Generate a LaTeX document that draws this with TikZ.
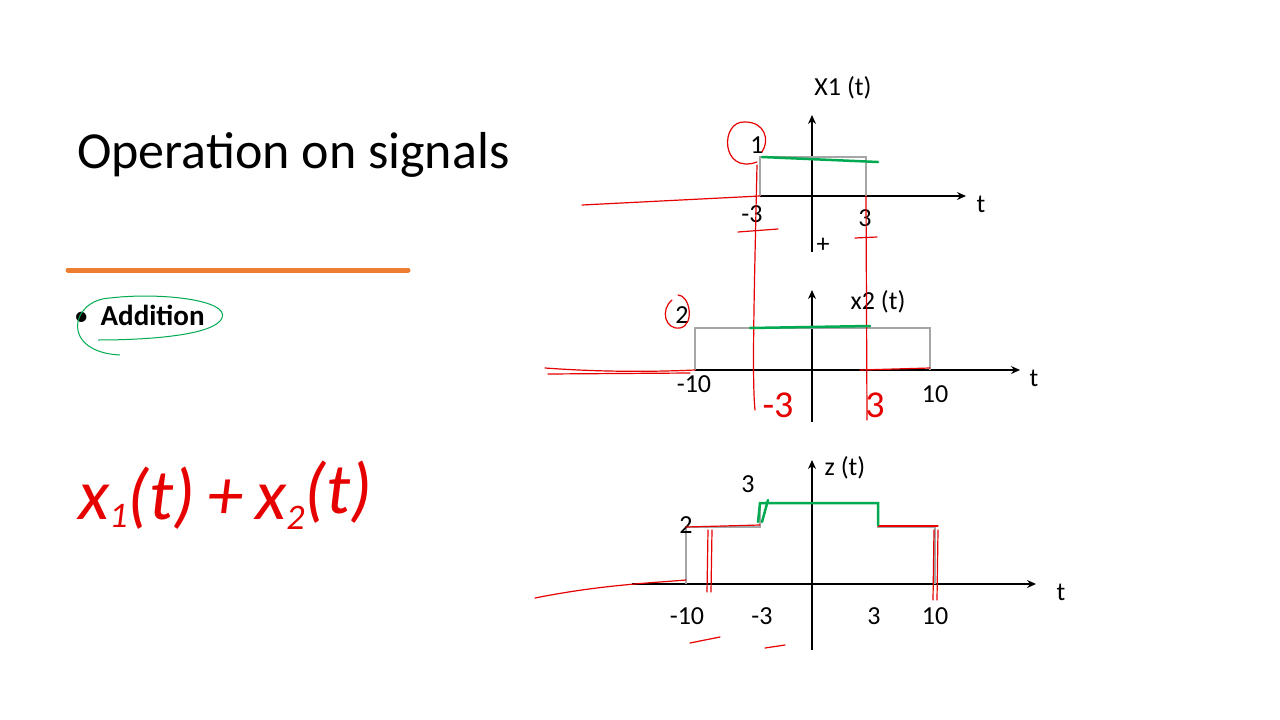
\documentclass[tikz,border=0pt]{standalone}
\usepackage{fontspec}
\setmainfont{Carlito}
\usetikzlibrary{arrows.meta}
\definecolor{ink}{RGB}{230,0,0}
\definecolor{gink}{RGB}{0,170,80}
\definecolor{orng}{RGB}{237,125,49}
\tikzset{ax/.style={line width=1.2pt,-{Stealth[length=9pt,width=8pt]}},
 sig/.style={draw=gray!70,line width=1.3pt},
 lab/.style={font=\fontsize{26}{26}\selectfont,inner sep=0pt},
 red/.style={draw=ink,line width=1.2pt,line cap=round},
 grn/.style={draw=gink,line width=2.5pt,line cap=round}}
\begin{document}
\begin{tikzpicture}[x=1pt,y=-1pt]
\useasboundingbox (0,0) rectangle (1280,720);
\fill[white] (0,0) rectangle (1280,720);
\node[anchor=west,inner sep=0,font=\fontsize{52}{52}\selectfont] (title) at (77,155) {Operation on signals};
\draw[orng,line width=5pt,line cap=round] (68,270) -- (408,270);
\node[anchor=west,inner sep=0,font=\fontsize{29}{29}\selectfont] (add) at (74,315) {•\hspace{12pt}\textbf{Addition}};
\draw[draw=gink,line width=1pt] (120,355) .. controls (60,352) and (70,300) .. (110,298) .. controls (160,292) and (230,300) .. (222,318) .. controls (215,335) and (150,340) .. (98,340);
\node[anchor=west,inner sep=0,text=ink,font=\itshape\fontsize{72}{72}\selectfont] (eq) at (78,495) {x\raisebox{-8pt}{\fontsize{36}{36}\selectfont 1}(t)\,+\,x\raisebox{-10pt}{\fontsize{36}{36}\selectfont 2}\raisebox{6pt}{(t)}};
% graph 1
\coordinate (y1b) at (812,252); \coordinate (y1t) at (812,115);
\coordinate (t1a) at (760,196); \coordinate (t1b) at (966,196);
\draw[ax] (y1b) -- (y1t);
\draw[ax] (t1a) -- (t1b);
\draw[sig] (760,196) -- (760,157) -- (866,157) -- (866,196);
\node[lab] (x1) at (843,88) {X1 (t)};
\node[lab] (t1) at (981,204) {t};
\node[lab] (o1) at (757,145) {1};
\node[lab] (m31) at (752,214) {-3};
\node[lab] (p31) at (865,218) {3};
\node[lab] (pl) at (823,245) {+};
% graph 2
\coordinate (y2b) at (812,422); \coordinate (y2t) at (812,290);
\coordinate (t2a) at (695,370); \coordinate (t2b) at (1020,370);
\draw[ax] (y2b) -- (y2t);
\draw[ax] (t2a) -- (t2b);
\draw[sig] (695,370) -- (695,328) -- (930,328) -- (930,370);
\node[lab] (x2) at (878,302) {x2 (t)};
\node[lab] (t2) at (1034,378) {t};
\node[lab] (two2) at (682,315) {2};
\node[lab] (m10) at (694,384) {-10};
\node[lab] (p10) at (935,394) {10};
% graph 3
\coordinate (y3b) at (812,650); \coordinate (y3t) at (812,460);
\coordinate (t3a) at (632,584); \coordinate (t3b) at (1036,584);
\draw[ax] (y3b) -- (y3t);
\draw[ax] (t3a) -- (t3b);
\draw[sig] (686,584) -- (686,527) -- (760,527) -- (760,503) -- (878,503) -- (878,527) -- (935,527) -- (935,584);
\node[lab] (z) at (845,468) {z (t)};
\node[lab] (t3) at (1061,592) {t};
\node[lab] (th3) at (748,484) {3};
\node[lab] (tw3) at (686,525) {2};
\node[lab] (a) at (687,616) {-10};
\node[lab] (b) at (762,616) {-3};
\node[lab] (c) at (874,616) {3};
\node[lab] (d) at (935,616) {10};
% red annotations
\draw[red] (582,205) -- (760,196);
\draw[red] (757,165) .. controls (754,300) and (752,380) .. (755,410);
\draw[red] (866,196) -- (867,420);
\draw[red] (757,162) .. controls (720,175) and (720,120) .. (745,122) .. controls (765,122) and (770,140) .. (762,152);
\draw[red] (738,232) -- (778,229); \draw[red] (855,238) -- (877,237);
\draw[red] (545,368) .. controls (600,372) and (650,372) .. (695,370);
\draw[red] (548,374) -- (690,373);
\draw[red] (860,370) -- (930,368);
\draw[red] (672,300) .. controls (660,310) and (665,330) .. (680,328) .. controls (695,325) and (690,295) .. (678,295);
\node[text=ink,font=\fontsize{38}{38}\selectfont,inner sep=0] (h1) at (778,405) {-3};
\node[text=ink,font=\fontsize{38}{38}\selectfont,inner sep=0] (h2) at (875,405) {3};
\draw[red] (535,598) .. controls (600,585) and (650,583) .. (686,580);
\draw[red] (686,527) -- (760,525);
\draw[red] (878,526) -- (938,526);
\draw[red] (708,530) -- (707,592); \draw[red] (712,530) -- (711,592);
\draw[red] (934,530) -- (933,600); \draw[red] (938,530) -- (937,600);
\draw[red] (690,643) -- (720,637); \draw[red] (765,648) -- (785,645);
% green annotations
\draw[grn] (762,157) -- (878,162);
\draw[grn] (750,328) -- (870,326);
\draw[grn] (758,522) -- (760,503) -- (878,503) -- (878,525);
\draw[grn] (762,522) -- (768,500);
\end{tikzpicture}
\end{document}
